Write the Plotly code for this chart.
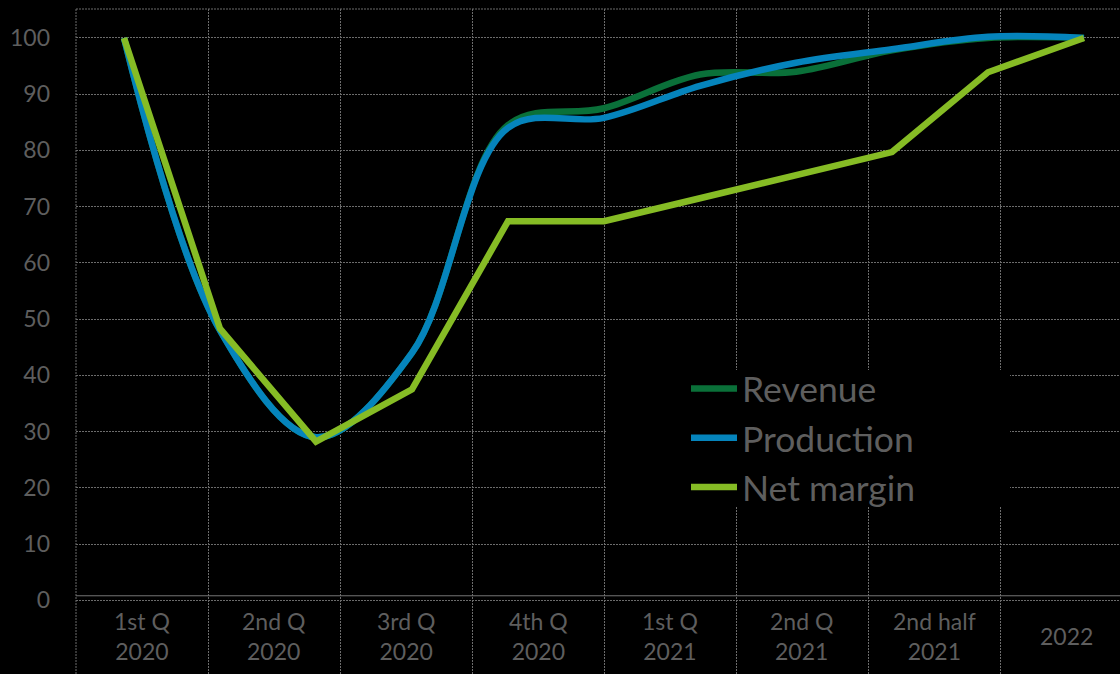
import plotly.graph_objects as go

# Axis categories (quarters / halves / year)
categories = ["1st Q<br>2020", "2nd Q<br>2020", "3rd Q<br>2020", "4th Q<br>2020",
              "1st Q<br>2021", "2nd Q<br>2021", "2nd half<br>2021", "2022"]

# Measurement points along the period (index-based positions)
points = list(range(11))

revenue = [100, 48, 29, 44, 84.5, 87.5, 93.5, 94.0, 97.8, 100, 100]
production = [100, 48, 29, 44, 84.0, 85.8, 91.5, 95.6, 98.0, 100.2, 100]
net_margin = [100, 48.3, 28.2, 37.5, 67.4, 67.4, 71.5, 75.6, 79.7, 93.9, 100]

y_ticks = list(range(0, 101, 10))

series = [
    ("Revenue", revenue, "#0A7039", "spline"),
    ("Production", production, "#0584BC", "spline"),
    ("Net margin", net_margin, "#86BC25", "linear"),
]

FONT = "Lato, 'Open Sans', sans-serif"
TEXT = "#5e5e5e"
GRID = "#6c6c6c"

fig = go.Figure()
for name, vals, color, shape in series:
    fig.add_trace(go.Scatter(
        x=points, y=vals, name=name, mode="lines",
        line=dict(color=color, width=6.5, shape=shape, smoothing=1.0),
        xaxis="x2", yaxis="y",
    ))

n_cat = len(categories)
fig.update_layout(
    width=1120, height=674,
    paper_bgcolor="black", plot_bgcolor="black",
    margin=dict(l=76, r=0, t=9, b=0, pad=0),
    font=dict(family=FONT, color=TEXT),
    xaxis=dict(
        range=[-0.5, n_cat - 0.5 - 12 / 132], showticklabels=False,
        tickvals=[j - 0.5 for j in range(n_cat)],
        showgrid=True, gridcolor=GRID, gridwidth=1, griddash="2px,1px",
        zeroline=False, showline=False, ticks="",
    ),
    xaxis2=dict(
        overlaying="x", range=[-0.5, len(points) - 0.5 - 12 / 96],
        visible=False, showgrid=False,
    ),
    yaxis=dict(
        range=[-13.11, 105.15], tickvals=y_ticks,
        showgrid=True, gridcolor=GRID, gridwidth=1, griddash="2px,1px",
        zeroline=False, showline=False, ticks="",
        tickfont=dict(family=FONT, size=23, color=TEXT),
        ticklabelstandoff=25,
    ),
    legend=dict(
        x=(686 - 76) / 1044, xanchor="left",
        y=1 - (359 - 9) / 665, yanchor="top",
        bgcolor="rgba(0,0,0,0)", borderwidth=0,
        font=dict(family=FONT, size=35.5, color=TEXT),
        itemwidth=46, tracegroupgap=0,
    ),
    showlegend=True,
)

# Category labels under the horizontal axis
for j, label in enumerate(categories):
    fig.add_annotation(
        x=j, y=-6.4, xref="x", yref="y", text=label, showarrow=False,
        font=dict(family=FONT, size=23, color=TEXT),
        xanchor="center", yanchor="middle", align="center",
    )

# Plot-area border (dotted) and horizontal axis line
fig.add_shape(type="line", xref="paper", yref="paper", x0=0, x1=1, y0=1, y1=1,
              line=dict(color=GRID, width=1, dash="2px,1px"))
fig.add_shape(type="line", xref="paper", yref="paper", x0=0, x1=0, y0=0, y1=1,
              line=dict(color=GRID, width=1, dash="2px,1px"))
fig.add_shape(type="line", xref="paper", yref="y", x0=0, x1=1, y0=0.8, y1=0.8,
              line=dict(color="#747474", width=1))
# Black panel behind the legend
fig.add_shape(type="rect", xref="paper", yref="paper",
              x0=(606 - 76) / 1044, x1=(1010 - 76) / 1044,
              y0=1 - (507 - 9) / 665, y1=1 - (370 - 9) / 665,
              fillcolor="black", line=dict(width=0), layer="above")

fig.write_html("out.html")
